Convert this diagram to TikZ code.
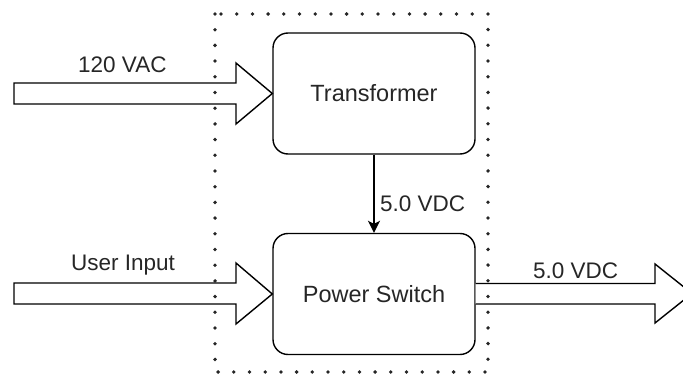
\documentclass[tikz,border=0pt]{standalone}
\usepackage{fontspec}
\setmainfont{Liberation Sans}
\usetikzlibrary{arrows.meta}
\begin{document}
\begin{tikzpicture}[x=1pt,y=-1pt,
 box/.style={draw, line width=1.4pt, rounded corners=15pt, minimum width=202pt, minimum height=121pt, inner sep=0pt, font=\fontsize{23.5}{28}\selectfont, text=black!85},
 lbl/.style={font=\fontsize{22.5}{27}\selectfont, inner sep=0pt, text=black!85, anchor=base west},
 fat/.style={draw, line width=1.4pt, fill=white, line join=miter},
 dots/.style={line width=3.8pt, line cap=round, dash pattern=on 0pt off 15.7pt, black!85},
 conn/.style={line width=1.4pt, -{Stealth[length=12pt,width=12pt,inset=3pt]}}]
\useasboundingbox (0,0) rectangle (683,374);
\node[box] (tr) at (374,93.5) {Transformer};
\node[box] (ps) at (374,294) {Power Switch};
\coordinate (otip) at (692,293.5);
% input arrows
\draw[fat] (14,83) -- (236,83) -- (236,63) -- (tr.west) -- (236,124) -- (236,104) -- (14,104) -- cycle;
\draw[fat] (14,283) -- (236,283) -- (236,263) -- (ps.west) -- (236,324) -- (236,304) -- (14,304) -- cycle;
% output arrow
\draw[fat] (ps.east) ++(0,-10.5) -- (655,283.5) -- (655,264) -- (otip) -- (655,323) -- (655,304) -- (ps.east |- 0,304);
% connector
\draw[conn] (tr) -- (ps);
% labels
\node[lbl] (l1) at (78,73) {120 VAC};
\node[lbl] (l2) at (71,271) {User Input};
\node[lbl] (l3) at (380,212) {5.0 VDC};
\node[lbl] (l4) at (533,279) {5.0 VDC};
% dotted boundary
\draw[dots] (215,14) rectangle (488,372);
\end{tikzpicture}
\end{document}
